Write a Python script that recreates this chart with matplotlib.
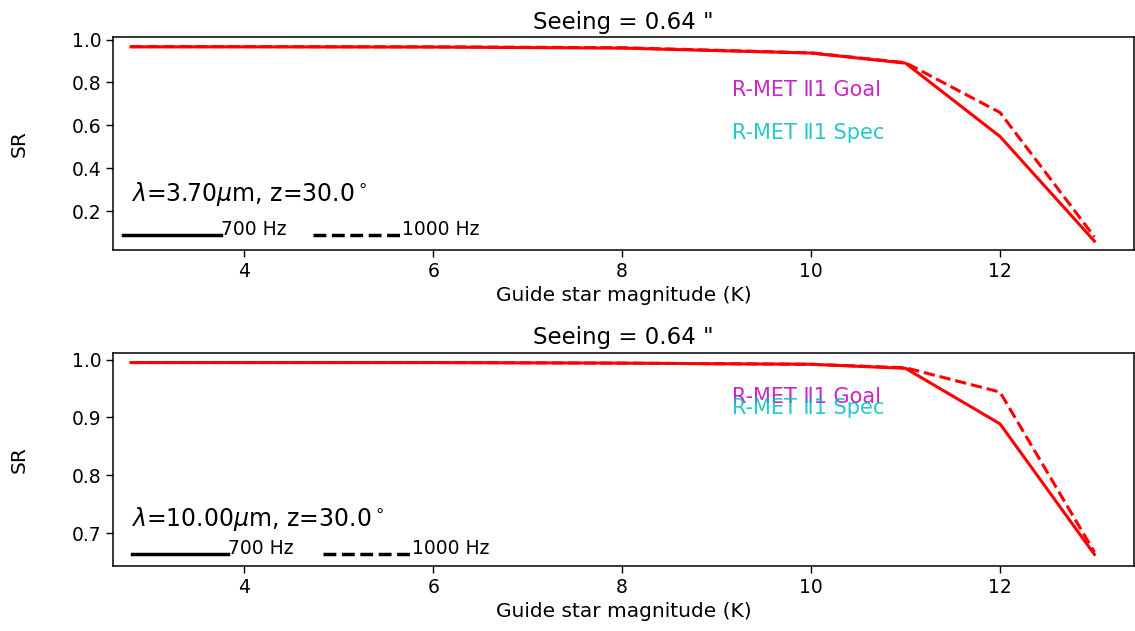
import matplotlib
matplotlib.use("Agg")
import matplotlib.pyplot as plt

# ---- data ----
mag = [2.8, 4, 6, 8, 10, 11, 12, 13]
sr37_700 = [0.966, 0.966, 0.965, 0.960, 0.937, 0.890, 0.548, 0.060]
sr37_1000 = [0.967, 0.967, 0.966, 0.962, 0.938, 0.892, 0.660, 0.080]
sr10_700 = [0.995, 0.995, 0.995, 0.994, 0.992, 0.985, 0.889, 0.663]
sr10_1000 = [0.995, 0.995, 0.995, 0.994, 0.992, 0.986, 0.944, 0.667]

title = 'Seeing = 0.64 "'
xlabel = "Guide star magnitude (K)"
ylabel = "SR"
lam_labels = [r"$\lambda$=3.70$\mu$m, z=30.0$^\circ$", r"$\lambda$=10.00$\mu$m, z=30.0$^\circ$"]
goal_text = "R-MET \u21611 Goal"
spec_text = "R-MET \u21611 Spec"
rate_labels = ["700 Hz", "1000 Hz"]

# annotation positions (data coords)
goal_y = [0.763, 0.935]
spec_y = [0.563, 0.916]
lam_y = [0.245, 0.712]
leg_y = [0.088, 0.664]
leg_solid_x = [(2.72, 3.75), (2.81, 3.83)]
leg_dash_x = [(4.73, 5.67), (4.83, 5.78)]

fig = plt.figure(figsize=(11.35, 6.31), dpi=100)
ax1 = fig.add_axes([0.0996, 0.6038, 0.8996, 0.3376])
ax2 = fig.add_axes([0.0996, 0.1030, 0.8996, 0.3380])

tick_fs = 13.5
lab_fs = 14.5
title_fs = 16.5

series = [(sr37_700, sr37_1000), (sr10_700, sr10_1000)]
for i, ax in enumerate([ax1, ax2]):
    s700, s1000 = series[i]
    ax.plot(mag, s700, color="red", lw=2.2, ls="-")
    ax.plot(mag, s1000, color="red", lw=2.2, ls="--")
    ax.set_xlim(2.61, 13.42)
    ax.set_xticks([4, 6, 8, 10, 12])
    ax.tick_params(labelsize=tick_fs, length=5, width=1)
    ax.set_xlabel(xlabel, fontsize=lab_fs)
    ax.set_ylabel(ylabel, fontsize=lab_fs)
    ax.set_title(title, fontsize=title_fs)
    for sp in ax.spines.values():
        sp.set_linewidth(1.1)
    ax.text(9.16, goal_y[i], goal_text, color="m", fontsize=15, va="center", ha="left", alpha=0.85)
    ax.text(9.16, spec_y[i], spec_text, color="c", fontsize=15, va="center", ha="left", alpha=0.85)
    ax.text(2.8, lam_y[i], lam_labels[i], fontsize=17, va="baseline", ha="left")
    ax.plot(leg_solid_x[i], [leg_y[i]] * 2, color="black", lw=2.5, ls="-", scalex=False, scaley=False)
    ax.plot(leg_dash_x[i], [leg_y[i]] * 2, color="black", lw=2.5, ls="--", scalex=False, scaley=False)
    ax.text(leg_solid_x[i][1], leg_y[i], rate_labels[0], fontsize=13.5, va="baseline", ha="left")
    ax.text(leg_dash_x[i][1], leg_y[i], rate_labels[1], fontsize=13.5, va="baseline", ha="left")

ax1.set_yticks([0.2, 0.4, 0.6, 0.8, 1.0])
ax2.set_yticks([0.7, 0.8, 0.9, 1.0])
ax1.set_ylim(0.0186, 1.012)
ax2.set_ylim(0.643, 1.012)
ax1.yaxis.set_label_coords(-0.083, 0.5)
ax2.yaxis.set_label_coords(-0.083, 0.5)

fig.savefig("out.png", dpi=100)
